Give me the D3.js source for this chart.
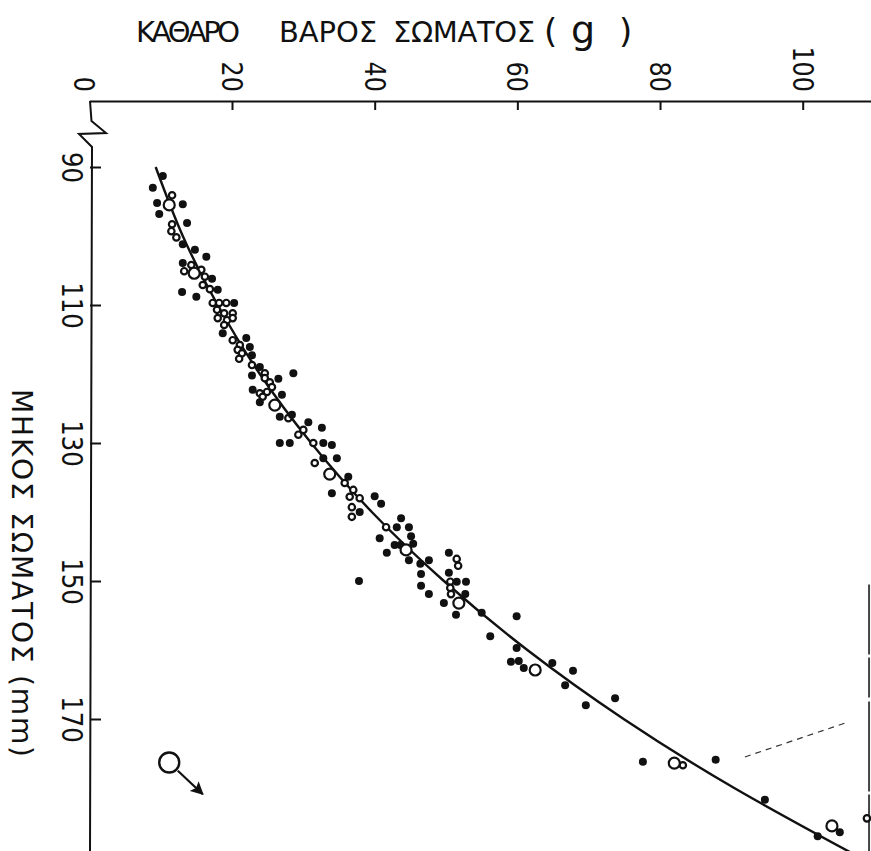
<!DOCTYPE html>
<html>
<head>
<meta charset="utf-8">
<script src="https://cdn.jsdelivr.net/npm/d3@7"></script>
<style>
  html, body { margin: 0; padding: 0; background: #fff; }
  svg { display: block; }
  text { font-family: "DejaVu Sans", sans-serif; fill: #111; }
</style>
</head>
<body>
<div id="chart"></div>
<script>
// Net body weight (g) against body length (mm), drawn with the length axis running down the page.
const weightTicks = [0, 20, 40, 60, 80, 100];
const lengthTicks = [90, 110, 130, 150, 170];

// Fitted growth curve, [length mm, weight g]
const fitCurve = [
  [90, 9.3], [100, 13.1], [110, 18.0], [120, 23.9], [130, 31.1], [140, 39.6],
  [150, 49.7], [160, 61.4], [170, 74.9], [180, 90.4], [190, 107.9]
];

// Individual fish, [length mm, weight g]
const filledDots = [
  [91.3,10.3],[93.0,8.9],[95.2,9.5],[95.4,13.1],[96.8,9.8],[98.1,13.7],[101.2,13.1],[102.0,14.8],
  [103.0,16.4],[103.9,13.1],[106.2,17.2],[107.8,18.0],[108.1,13.0],[108.8,15.0],[109.7,20.3],
  [114.1,18.7],[114.8,22.0],[116.1,22.5],[117.3,22.8],[119.0,23.9],[120.2,22.8],[120.7,26.5],
  [119.9,28.6],[122.3,22.9],[123.0,27.0],[124.1,23.9],[126.2,26.7],[125.9,28.4],[127.0,30.7],
  [127.8,32.6],[130.0,26.7],[130.0,28.1],[130.0,32.8],[130.3,34.0],[132.2,34.7],[132.2,32.8],
  [134.9,36.3],[137.7,40.0],[137.3,34.0],[138.8,40.9],[140.0,37.9],[140.9,43.7],[142.2,43.1],
  [142.2,44.8],[143.5,45.1],[143.8,40.7],[144.8,42.8],[144.8,43.6],[144.6,45.4],[145.9,41.7],
  [147.0,44.8],[147.5,46.4],[147.0,47.6],[149.0,46.5],[150.7,46.5],[151.9,47.6],[150.0,37.8],
  [145.9,50.4],[148.8,50.4],[150.1,51.5],[150.1,52.8],[151.9,52.7],[153.2,49.7],[154.9,51.4],
  [154.6,55.0],[155.1,59.9],[158.0,56.2],[159.7,59.9],[161.7,59.1],[161.6,60.2],[162.6,60.9],
  [161.9,64.9],[163.0,67.8],[165.1,66.7],[168.0,69.6],[167.0,73.7],[176.2,77.6],[175.9,87.8],
  [181.7,94.7],[187.0,102.1],[186.4,105.2]
];

// Mean values, drawn as open circles
const openCircles = [
  [95.5,11.2],[105.4,14.7],[124.5,26.0],[134.5,33.7],[145.5,44.4],[153.2,51.8],
  [162.9,62.5],[176.4,82.0],[185.5,104.1]
];

// Overlapping individuals near the curve, drawn as small rings
const smallRings = [
  [94.1,11.6],[98.3,11.6],[99.3,11.5],[100.2,12.2],[104.2,14.3],[105.1,13.3],[104.9,15.7],
  [105.9,16.2],[107.1,15.9],[107.7,16.9],[109.7,17.3],[109.7,18.2],[109.7,19.2],[110.7,17.9],
  [111.2,18.9],[111.2,20.1],[111.9,18.0],[112.2,19.3],[111.9,20.1],[112.9,18.9],[115.1,20.1],
  [115.8,21.1],[116.5,20.8],[117.0,21.4],[117.8,21.0],[118.7,22.8],[119.9,24.6],[120.6,24.6],
  [121.2,25.3],[121.9,25.6],[122.8,23.9],[122.6,24.9],[123.3,24.3],[126.4,27.9],[128.1,30.0],
  [128.8,29.3],[130.0,31.4],[132.9,31.6],[135.8,35.8],[136.8,37.0],[137.8,36.5],[138.0,37.9],
  [139.3,36.8],[140.7,36.8],[142.2,41.6],[146.8,51.5],[147.8,51.7],[150.1,50.6],[151.0,50.6],
  [151.9,50.7],[176.7,83.2],[184.4,109.0]
];

// Faint dashed guide and the frame edge, [length mm, weight g]
const dashedGuide = [[175.5, 91.9], [170.6, 105.9]];
const frameEdge = [[150.5, 109.3], [189.5, 109.3]];

// Key symbol: open circle with arrow, [length mm, weight g]
const keyCircle = [176.3, 11.2];
const keyArrow = [[177.5, 12.4], [180.9, 15.9]];

const W = 871, H = 851;
const svg = d3.select("#chart").append("svg")
  .attr("width", W).attr("height", H)
  .attr("viewBox", `0 0 ${W} ${H}`);
svg.append("rect").attr("width", W).attr("height", H).attr("fill", "#fff");

const x = d3.scaleLinear().domain([20, 100]).range([232, 802.7]);
const y = d3.scaleLinear().domain([90, 170]).range([167, 719]);

const axisTop = 101, axisLeft = 90;

// Weight axis across the top
const gx = svg.append("g")
  .attr("transform", `translate(0,${axisTop})`)
  .call(d3.axisBottom(x.copy().domain([0, 109.9]).range([x(0), x(109.9)]))
    .tickValues(weightTicks).tickSize(9).tickSizeOuter(0).tickFormat(d3.format("d")));
gx.select(".domain").attr("stroke", "#111").attr("stroke-width", 2);
gx.selectAll(".tick line").attr("stroke", "#111").attr("stroke-width", 2)
  .attr("y2", d => d === 0 ? 0 : 9);
gx.selectAll(".tick text")
  .attr("transform", "rotate(90)")
  .attr("x", -9).attr("y", d => d === 0 ? 16 : 10.5).attr("dy", 0)
  .attr("text-anchor", "end")
  .attr("font-size", 28)
  .attr("lengthAdjust", "spacingAndGlyphs")
  .attr("textLength", d => String(d).length * 15.2);

// Length axis down the left side
const gy = svg.append("g")
  .attr("transform", `translate(${axisLeft},0)`)
  .call(d3.axisRight(y).tickValues(lengthTicks).tickSize(11).tickSizeOuter(0));
gy.select(".domain").remove();
gy.selectAll(".tick line").attr("stroke", "#111").attr("stroke-width", 2);
gy.selectAll(".tick text")
  .attr("transform", "rotate(90)")
  .attr("x", 0).attr("y", 28).attr("dy", 0)
  .attr("text-anchor", "middle")
  .attr("font-size", 28)
  .attr("lengthAdjust", "spacingAndGlyphs")
  .attr("textLength", d => String(d).length * 15.5);

// Length axis line with a break mark below the corner
const breakPath = d3.path();
breakPath.moveTo(axisLeft, axisTop);
breakPath.lineTo(axisLeft + 1.5, axisTop + 20);
breakPath.lineTo(axisLeft + 16, axisTop + 32);
breakPath.lineTo(axisLeft - 11, axisTop + 33);
breakPath.lineTo(axisLeft + 2, axisTop + 46);
breakPath.lineTo(axisLeft, H + 2);
svg.append("path").attr("d", breakPath.toString())
  .attr("fill", "none").attr("stroke", "#111").attr("stroke-width", 2)
  .attr("stroke-linejoin", "miter");

// Axis titles
const titleWords = [
  { t: "ΚΑΘΑΡΟ", x0: 136, len: 104 },
  { t: "ΒΑΡΟΣ", x0: 279, len: 98 },
  { t: "ΣΩΜΑΤΟΣ", x0: 393, len: 142 }
];
svg.append("g").selectAll("text").data(titleWords).join("text")
  .attr("x", d => d.x0).attr("y", 42)
  .attr("font-size", 29)
  .attr("lengthAdjust", "spacing")
  .attr("textLength", d => d.len)
  .text(d => d.t);
const unit = svg.append("text").attr("y", 43);
unit.append("tspan").attr("x", 544).attr("font-size", 34).text("(");
unit.append("tspan").attr("x", 571).attr("font-size", 38).text("g");
unit.append("tspan").attr("x", 619).attr("font-size", 34).text(")");

svg.append("text")
  .attr("transform", `translate(12,757) rotate(90)`)
  .attr("text-anchor", "end")
  .attr("font-size", 28)
  .attr("lengthAdjust", "spacing")
  .attr("textLength", 368)
  .text("ΜΗΚΟΣ ΣΩΜΑΤΟΣ (mm)");

// Frame edge and dashed guide
const lineLW = d3.line().x(d => x(d[1])).y(d => y(d[0]));
svg.append("path").attr("d", lineLW(frameEdge))
  .attr("stroke", "#444").attr("stroke-width", 2).attr("fill", "none")
  .attr("stroke-dasharray", "70,3,40,4,90,3");
svg.append("path").attr("d", lineLW(dashedGuide))
  .attr("stroke", "#333").attr("stroke-width", 1.2).attr("fill", "none")
  .attr("stroke-dasharray", "6,5");

// Growth curve
svg.append("path")
  .attr("d", d3.line().x(d => x(d[1])).y(d => y(d[0])).curve(d3.curveNatural)(fitCurve))
  .attr("fill", "none").attr("stroke", "#111").attr("stroke-width", 2.4);

// Points
svg.append("g").selectAll("circle").data(smallRings).join("circle")
  .attr("cx", d => x(d[1])).attr("cy", d => y(d[0])).attr("r", 3.2)
  .attr("fill", "#fff").attr("stroke", "#111").attr("stroke-width", 2.2);
svg.append("g").selectAll("circle").data(filledDots).join("circle")
  .attr("cx", d => x(d[1])).attr("cy", d => y(d[0])).attr("r", 4)
  .attr("fill", "#111");
svg.append("g").selectAll("circle").data(openCircles).join("circle")
  .attr("cx", d => x(d[1])).attr("cy", d => y(d[0])).attr("r", 5.5)
  .attr("fill", "#fff").attr("stroke", "#111").attr("stroke-width", 2.2);

// Key symbol
svg.append("circle")
  .attr("cx", x(keyCircle[1])).attr("cy", y(keyCircle[0])).attr("r", 10)
  .attr("fill", "none").attr("stroke", "#111").attr("stroke-width", 2.4);
svg.append("defs").append("marker")
  .attr("id", "head").attr("viewBox", "0 0 10 10")
  .attr("refX", 9).attr("refY", 5)
  .attr("markerWidth", 6).attr("markerHeight", 6)
  .attr("markerUnits", "strokeWidth")
  .attr("orient", "auto")
  .append("path").attr("d", "M0,0 L10,5 L0,10 L2,5 Z").attr("fill", "#111");
svg.append("path").attr("d", lineLW(keyArrow))
  .attr("stroke", "#111").attr("stroke-width", 2.2).attr("fill", "none")
  .attr("marker-end", "url(#head)");
</script>
</body>
</html>
